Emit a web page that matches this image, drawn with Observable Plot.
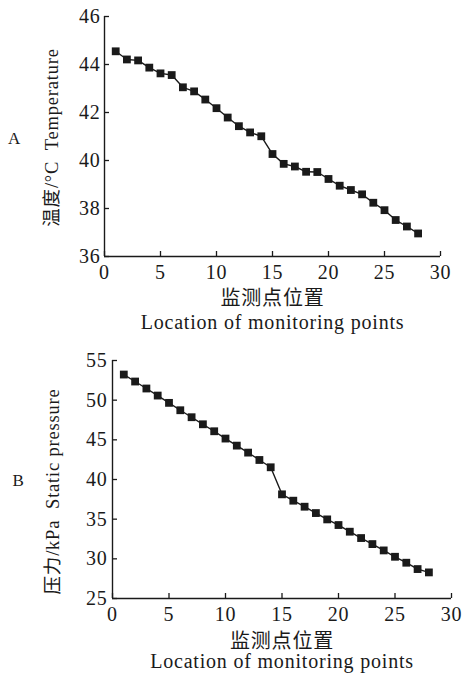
<!DOCTYPE html>
<html><head><meta charset="utf-8">
<script src="https://cdn.jsdelivr.net/npm/d3@7"></script>
<script src="https://cdn.jsdelivr.net/npm/@observablehq/plot@0.6"></script>
<style>
body{margin:0;background:#fff}
#chart{width:470px;height:674px;position:relative;background:#fff}
#chart svg{display:block}
</style>
</head><body><div id="chart"></div>
<script>
const positions = [1,2,3,4,5,6,7,8,9,10,11,12,13,14,15,16,17,18,19,20,21,22,23,24,25,26,27,28];
const temperature = [44.55,44.21,44.17,43.87,43.63,43.56,43.05,42.88,42.54,42.18,41.79,41.43,41.17,41.01,40.27,39.86,39.75,39.53,39.52,39.23,38.95,38.77,38.59,38.24,37.93,37.52,37.25,36.96];
const pressure = [53.23,52.35,51.47,50.58,49.66,48.73,47.85,46.96,46.08,45.16,44.27,43.39,42.46,41.54,38.13,37.33,36.57,35.77,34.97,34.26,33.42,32.62,31.86,31.06,30.26,29.51,28.71,28.29];
const xTicks = [0,5,10,15,20,25,30];
const tempTicks = [36,38,40,42,44,46];
const pressTicks = [25,30,35,40,45,50,55];
const xLabelZh = "监测点位置";
const xLabelEn = "Location of monitoring points";
const tempLabel = "温度/°C  Temperature";
const pressLabel = "压力/kPa  Static pressure";

const INK = "#1a1a1a";
const FONT = "'Liberation Serif','Noto Sans CJK SC',serif";

function panel(o) {
  const data = positions.map((x, i) => ({x, v: o.values[i]}));
  return Plot.plot({
    width: 470, height: o.height,
    marginLeft: o.ml, marginRight: o.mr, marginTop: o.mt, marginBottom: o.mb,
    style: {fontFamily: FONT, fontSize: "20px", color: INK, background: "#fff", overflow: "visible", letterSpacing: "0.8px"},
    x: {domain: [0, 30]},
    y: {domain: [o.ticks[0], o.ticks[o.ticks.length - 1]]},
    marks: [
      Plot.ruleX([0], {stroke: INK, strokeWidth: 1.4}),
      Plot.ruleY([o.ticks[0]], {stroke: INK, strokeWidth: 1.4}),
      Plot.axisX(xTicks, {tickSize: 0, tickPadding: 8, label: null, fontSize: 20}),
      Plot.axisX(xTicks, {tickSize: 5, dy: -5, tickFormat: () => "", label: null, strokeWidth: 1.3}),
      Plot.axisY(o.ticks, {tickSize: 0, tickPadding: o.pad, label: null, fontSize: 20}),
      Plot.axisY(o.ticks, {tickSize: 5, dx: 5, tickFormat: () => "", label: null, strokeWidth: 1.3}),
      Plot.line(data, {x: "x", y: "v", stroke: INK, strokeWidth: 1.4}),
      Plot.dot(data, {x: "x", y: "v", symbol: "square", r: 4.4, fill: INK, stroke: "none"}),
      Plot.text([o.yLabel], {text: d => d, frameAnchor: "left", textAnchor: "middle", lineAnchor: "middle", dx: o.ylx, dy: o.yly, rotate: -90, fontSize: 18.5, fill: INK}),
      Plot.text([o.tag], {text: d => d, frameAnchor: "left", textAnchor: "middle", lineAnchor: "middle", dx: o.tagx, dy: o.tagy, fontSize: 17, fill: INK}),
      Plot.text([xLabelZh], {text: d => d, frameAnchor: "bottom", textAnchor: "middle", lineAnchor: "middle", dy: o.zhy, fontSize: 20, fill: INK}),
      Plot.text([xLabelEn], {text: d => d, frameAnchor: "bottom", textAnchor: "middle", lineAnchor: "middle", dy: o.eny, fontSize: 20, fill: INK})
    ]
  });
}

const chart = document.getElementById("chart");
chart.append(panel({
  values: temperature, ticks: tempTicks, height: 340,
  ml: 104, mr: 30, mt: 16, mb: 84, pad: 4,
  yLabel: tempLabel, ylx: -52, yly: 1, tag: "A", tagx: -90, tagy: 2,
  zhy: 42, eny: 66
}));
chart.append(panel({
  values: pressure, ticks: pressTicks, height: 334,
  ml: 112, mr: 19, mt: 20, mb: 76, pad: 5,
  yLabel: pressLabel, ylx: -59, yly: 12, tag: "B", tagx: -94, tagy: 1,
  zhy: 43, eny: 63
}));
</script>
</body></html>
